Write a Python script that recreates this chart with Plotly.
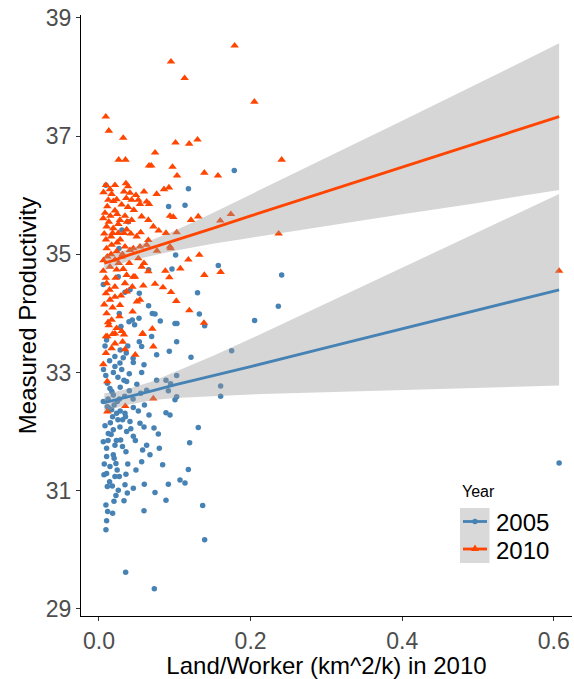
import plotly.graph_objects as go

# ---------------- data ----------------
x2005 = [0.0092, 0.1785, 0.118, 0.0919, 0.1135, 0.1011, 0.0963, 0.1574, 0.241, 0.2366,
         0.2053, 0.130, 0.1324, 0.1394, 0.0655, 0.0704, 0.0739, 0.0809, 0.1003, 0.1029,
         0.0532, 0.0396, 0.044, 0.029, 0.047, 0.0268, 0.0655, 0.041, 0.0343, 0.0528,
         0.0057, 0.0303, 0.0264, 0.0387, 0.0255,
         0.0532, 0.0563, 0.0695, 0.0761, 0.0928, 0.1025, 0.1214, 0.175, 0.0453, 0.0563,
         0.0594, 0.0884, 0.0945, 0.1025, 0.0915, 0.0761, 0.1605, 0.1605, 0.0629, 0.1003,
         0.1025, 0.04, 0.0453, 0.0343, 0.0211, 0.0277, 0.033, 0.0365, 0.0145, 0.0189,
         0.0242, 0.0057, 0.011, 0.0167, 0.0233, 0.0312, 0.0409, 0.0541, 0.066, 0.0884,
         0.0937, 0.131, 0.1196, 0.0594, 0.0726, 0.0783, 0.0796, 0.0629, 0.0673, 0.0576,
         0.0453, 0.0365, 0.0277, 0.0189, 0.0123, 0.0057, 0.0101, 0.0211, 0.0286, 0.0356,
         0.0189, 0.0101, 0.0224, 0.0145, 0.0066, 0.0101, 0.0211, 0.0268, 0.0356, 0.0488,
         0.0563, 0.084, 0.1069, 0.1135, 0.1179, 0.0915, 0.0598, 0.0453, 0.0343, 0.011,
         0.0176, 0.0255, 0.0224, 0.0374, 0.0739, 0.0884, 0.033, 0.0198, 0.0092, 0.0114,
         0.018, 0.0594, 0.1368, 0.0101, 0.0092, 0.1394, 0.0352, 0.073,
         0.010, 0.021, 0.028, 0.036, 0.045, 0.019, 0.025, 0.011, 0.017, 0.008,
         0.014, 0.030, 0.040, 0.050, 0.034, 0.012, 0.020, 0.028, 0.015, 0.025,
         0.035, 0.008, 0.045, 0.055, 0.060,
         0.006, 0.009, 0.013, 0.016, 0.018, 0.023, 0.027, 0.031, 0.012, 0.020,
         0.024, 0.014, 0.007, 0.028, 0.032, 0.038, 0.042, 0.048, 0.052, 0.038,
         0.607]
y2005 = [36.17, 36.42, 36.11, 35.81, 35.83, 34.99, 34.75, 34.81, 34.65, 34.12,
         33.88, 34.35, 33.99, 33.79, 34.13, 34.00, 33.99, 33.87, 33.83, 33.83,
         34.34, 33.86, 33.89, 33.78, 33.81, 34.00, 34.74, 34.40, 34.36, 33.92,
         34.49, 35.41, 35.10, 35.55, 34.62,
         33.52, 33.44, 33.61, 33.30, 33.36, 33.52, 33.26, 33.37, 33.17, 33.00,
         33.13, 32.87, 32.81, 32.95, 32.69, 32.87, 32.77, 32.60, 32.70, 32.54,
         32.59, 32.69, 32.41, 32.31, 33.10, 33.16, 32.87, 32.85, 32.73, 32.62,
         32.51, 32.51, 32.42, 32.37, 32.31, 32.20, 32.17, 32.14, 32.28, 32.32,
         32.28, 32.07, 31.81, 32.08, 32.06, 31.96, 31.72, 31.77, 31.61, 31.69,
         31.92, 32.00, 32.08, 32.03, 31.97, 31.83, 31.72, 31.77, 31.86, 31.66,
         31.61, 31.58, 31.46, 31.41, 31.27, 31.29, 31.24, 31.24, 31.28, 31.35,
         31.49, 31.44, 31.18, 31.13, 31.36, 31.11, 31.11, 31.04, 31.10, 31.07,
         31.08, 31.01, 30.92, 30.96, 30.97, 30.84, 30.83, 30.82, 30.76, 30.65,
         30.62, 30.66, 30.75, 30.49, 30.34, 30.17, 29.62, 29.34,
         33.55, 33.27, 33.38, 33.33, 33.24, 33.00, 32.92, 32.82, 32.68, 33.45,
         33.20, 33.05, 32.98, 32.80, 32.60, 32.55, 32.45, 32.35, 32.15, 32.20,
         32.25, 32.10, 32.55, 32.65, 32.45,
         33.05, 32.95, 32.40, 31.95, 32.25, 31.85, 32.55, 31.75, 31.85, 31.55,
         31.35, 31.15, 31.45, 32.75, 33.25, 33.45, 32.05, 31.85, 32.35, 31.45,
         31.47]

x2010 = [0.009, 0.013, 0.032, 0.026, 0.035, 0.066, 0.069, 0.074, 0.095, 0.113,
         0.101, 0.119, 0.130, 0.097, 0.103, 0.139, 0.157, 0.179, 0.205, 0.241,
         0.0092, 0.0145, 0.0211, 0.0167, 0.0356, 0.0383, 0.033, 0.0409, 0.0488, 0.0594,
         0.0761, 0.0858, 0.0923, 0.0123, 0.0233, 0.0431, 0.0519, 0.0629,
         0.011, 0.0211, 0.0299, 0.0383, 0.0541, 0.066, 0.0277, 0.0057, 0.015, 0.0343,
         0.0431, 0.0563, 0.0651, 0.0937, 0.0981, 0.131, 0.1214,
         0.0101, 0.0189, 0.0255, 0.033, 0.018, 0.0255, 0.0092, 0.0365, 0.055, 0.0717,
         0.0787, 0.0884, 0.1025, 0.0651, 0.0497,
         0.0101, 0.0167, 0.0233, 0.0343, 0.0409, 0.0453, 0.0541, 0.0629, 0.0765, 0.0937,
         0.011, 0.0211, 0.0299, 0.04, 0.0519, 0.0594, 0.0945,
         0.0057, 0.0145, 0.0233, 0.0365, 0.0453, 0.0563, 0.0651, 0.0739, 0.0844, 0.0875,
         0.0928, 0.1073, 0.1179, 0.1324, 0.139, 0.1605, 0.0101, 0.0211, 0.0343, 0.0475,
         0.0585,
         0.0092, 0.0145, 0.0211, 0.0277, 0.0365, 0.0444, 0.0541, 0.0101, 0.0167, 0.0233,
         0.0092, 0.0211, 0.033, 0.0576, 0.0704, 0.095, 0.102, 0.1192, 0.1385,
         0.011, 0.018, 0.0211, 0.0312, 0.0343, 0.0479, 0.0576, 0.0717, 0.0092, 0.0167,
         0.0057, 0.011, 0.0347, 0.0717, 0.011,
         0.237, 0.174, 0.160,
         0.006, 0.008, 0.007, 0.013, 0.016, 0.019, 0.024, 0.028, 0.031, 0.006,
         0.009, 0.014, 0.018, 0.022, 0.026, 0.029, 0.032, 0.037, 0.042, 0.046,
         0.012, 0.027, 0.007, 0.016, 0.024, 0.036, 0.044, 0.050, 0.013, 0.030,
         0.607]
y2010 = [37.33, 37.09, 36.97, 36.60, 36.60, 36.50, 36.50, 36.72, 38.26, 37.98,
         36.89, 36.87, 36.94, 36.48, 36.33, 36.38, 36.33, 38.53, 37.58, 36.60,
         36.17, 36.10, 36.17, 36.02, 36.20, 36.15, 36.06, 36.04, 36.00, 36.06,
         36.02, 36.10, 36.13, 35.92, 35.93, 35.92, 35.92, 35.89,
         35.81, 35.74, 35.84, 35.80, 35.85, 35.85, 35.58, 35.61, 35.65, 35.65,
         35.58, 35.64, 35.58, 35.65, 35.63, 35.64, 35.58,
         35.47, 35.44, 35.51, 35.36, 35.36, 35.36, 35.25, 35.42, 35.37, 35.47,
         35.40, 35.36, 35.37, 35.24, 35.30,
         35.10, 35.16, 35.05, 35.13, 35.07, 35.10, 35.13, 35.16, 35.06, 35.13,
         34.96, 34.91, 34.96, 34.85, 34.93, 34.85, 35.10,
         34.72, 34.79, 34.74, 34.65, 34.62, 34.79, 34.71, 34.50, 34.44, 34.72,
         34.61, 34.76, 34.91, 34.99, 34.65, 34.70, 34.51, 34.45, 34.51, 34.62,
         34.47,
         34.34, 34.23, 34.28, 34.14, 34.37, 34.03, 34.23, 34.00, 33.89, 33.75,
         33.61, 33.66, 33.64, 33.66, 33.74, 34.36, 34.21, 34.05, 33.84,
         33.61, 33.65, 33.49, 33.52, 33.39, 33.30, 33.65, 33.44, 33.33, 33.41,
         33.14, 32.85, 32.43, 32.56, 32.34,
         35.35, 35.68, 35.57,
         36.05, 35.70, 35.35, 35.55, 35.30, 35.90, 35.68, 35.25, 35.00, 34.90,
         34.60, 34.40, 34.10, 34.60, 34.85, 34.30, 34.75, 35.55, 35.35, 35.75,
         33.85, 33.95, 34.15, 35.00, 35.20, 35.95, 34.45, 34.20, 33.80, 33.70,
         34.72]

# linear fit and 95% confidence band
band_x = [0.007, 0.02, 0.04, 0.07, 0.1, 0.15, 0.2, 0.3, 0.4, 0.5, 0.607]
fit2005 = [32.49, 32.53, 32.59, 32.69, 32.79, 32.94, 33.10, 33.42, 33.74, 34.06, 34.40]
lo2005 = [32.33, 32.39, 32.46, 32.53, 32.57, 32.60, 32.63, 32.67, 32.71, 32.74, 32.78]
hi2005 = [32.65, 32.67, 32.73, 32.85, 33.01, 33.28, 33.57, 34.17, 34.77, 35.38, 36.02]
fit2010 = [34.85, 34.90, 34.99, 35.11, 35.23, 35.44, 35.65, 36.06, 36.47, 36.88, 37.33]
lo2010 = [34.73, 34.79, 34.89, 34.98, 35.06, 35.18, 35.29, 35.48, 35.68, 35.87, 36.09]
hi2010 = [34.97, 35.01, 35.09, 35.24, 35.40, 35.70, 36.01, 36.64, 37.26, 37.89, 38.57]

years = ["2005", "2010"]
x_ticks = [0.0, 0.2, 0.4, 0.6]
y_ticks = [29, 31, 33, 35, 37, 39]

# ---------------- styling ----------------
BLUE = "#4682B4"
ORANGE = "#FF4500"
BAND = "rgba(153,153,153,0.4)"
FONT = "Liberation Sans, Arial, Helvetica, sans-serif"

fig = go.Figure()

fig.add_trace(go.Scatter(x=x2005, y=y2005, mode="markers", name=years[0], showlegend=False,
                         marker=dict(symbol="circle", size=5.5, color=BLUE, line=dict(width=0))))
fig.add_trace(go.Scatter(x=x2010, y=y2010, mode="markers", name=years[1], showlegend=False,
                         marker=dict(symbol="triangle-up", size=7.5, color=ORANGE, line=dict(width=0))))

for fit, lo, hi, col, nm in [(fit2005, lo2005, hi2005, BLUE, years[0]),
                             (fit2010, lo2010, hi2010, ORANGE, years[1])]:
    fig.add_trace(go.Scatter(x=band_x + band_x[::-1], y=hi + lo[::-1], mode="lines",
                             fill="toself", fillcolor=BAND, line=dict(width=0),
                             showlegend=False, hoverinfo="skip"))
    fig.add_trace(go.Scatter(x=band_x, y=fit, mode="lines", name=nm,
                             line=dict(color=col, width=2.8), showlegend=False))

W, H = 574, 679
L, R, T, B = 81, 2, 15, 63
pw, ph = W - L - R, H - T - B

def px(xp):
    """page pixel x -> paper coordinate"""
    return (xp - L) / pw

def py(yp):
    """page pixel y -> paper coordinate"""
    return (H - B - yp) / ph

# ---- legend (drawn by hand to match ggplot's key layout) ----
shapes = [dict(type="rect", xref="paper", yref="paper",
               x0=px(460), x1=px(489.5), y0=py(563), y1=py(508),
               fillcolor="#D9D9D9", line=dict(width=0), layer="above")]
annotations = [dict(text="Year", xref="paper", yref="paper", x=px(460), y=py(491),
                    xanchor="left", yanchor="middle", showarrow=False,
                    font=dict(size=16, color="black"))]
for i, (nm, col) in enumerate(zip(years, [BLUE, ORANGE])):
    yc = 521.5 + 27.5 * i
    shapes.append(dict(type="line", xref="paper", yref="paper",
                       x0=px(463), x1=px(487), y0=py(yc), y1=py(yc),
                       line=dict(color=col, width=2.8), layer="above"))
    if i == 0:
        shapes.append(dict(type="circle", xref="paper", yref="paper",
                           x0=px(472.3), x1=px(477.7), y0=py(yc + 2.7), y1=py(yc - 2.7),
                           fillcolor=col, line=dict(width=0), layer="above"))
    else:
        shapes.append(dict(type="path", xref="paper", yref="paper",
                           path=f"M {px(471):.5f},{py(yc + 2):.5f} L {px(479):.5f},{py(yc + 2):.5f} "
                                f"L {px(475):.5f},{py(yc - 4.5):.5f} Z",
                           fillcolor=col, line=dict(width=0), layer="above"))
    annotations.append(dict(text=nm, xref="paper", yref="paper", x=px(494), y=py(yc + 1),
                            xanchor="left", yanchor="middle", showarrow=False,
                            font=dict(size=24, color="black")))

fig.update_layout(
    width=W, height=H,
    margin=dict(l=L, r=R, t=T, b=B, autoexpand=False),
    paper_bgcolor="white", plot_bgcolor="rgba(0,0,0,0)",
    font=dict(family=FONT, color="black"),
    showlegend=False,
    shapes=shapes, annotations=annotations,
    xaxis=dict(
        range=[-0.0237, 0.624], tickvals=x_ticks, ticktext=[f"{v:.1f}" for v in x_ticks],
        showgrid=False, zeroline=False, showline=True, linecolor="black", linewidth=1.2,
        ticks="outside", ticklen=4, tickcolor="#333333", tickwidth=1.1,
        tickfont=dict(size=23, color="#4D4D4D"), automargin=False, ticklabeloverflow="allow",
        title=dict(text="Land/Worker (km^2/k) in 2010", font=dict(size=24, color="black"), standoff=4),
    ),
    yaxis=dict(
        range=[28.88, 39.05], tickvals=y_ticks,
        showgrid=False, zeroline=False, showline=True, linecolor="black", linewidth=1.2,
        ticks="outside", ticklen=4, tickcolor="#333333", tickwidth=1.1,
        tickfont=dict(size=23, color="#4D4D4D"), automargin=False, ticklabeloverflow="allow",
        title=dict(text="Measured Productivity", font=dict(size=24, color="black"), standoff=2),
    ),
)

# remove the browser's default 8px body margin so the figure fills the window exactly
fig.write_html("out.html", config={"displayModeBar": False},
               post_script="document.body.style.margin='0px';document.body.style.overflow='hidden';")
